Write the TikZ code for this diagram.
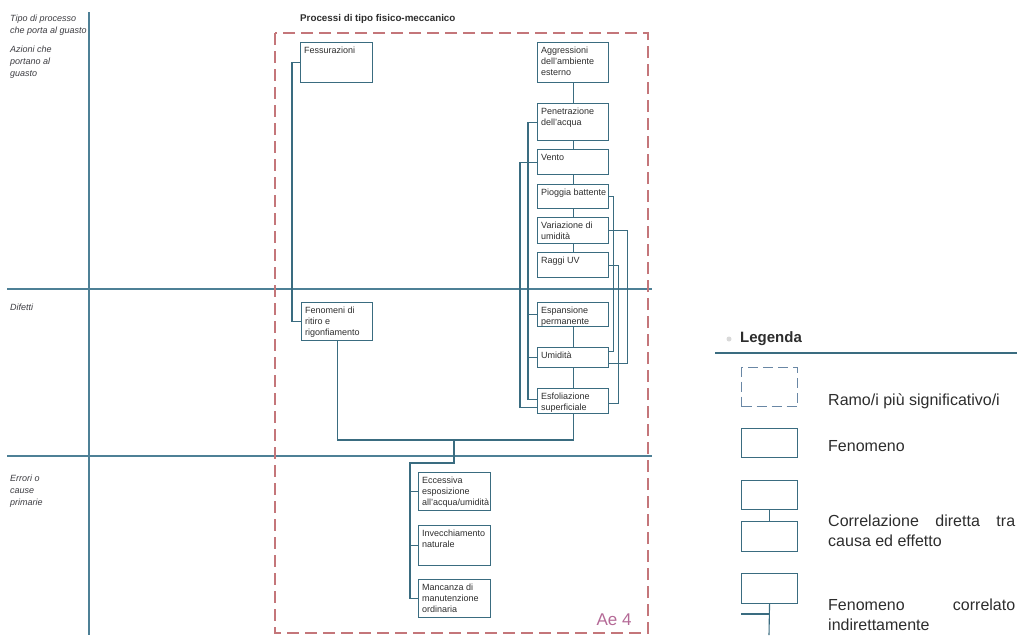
\documentclass[tikz,border=0pt]{standalone}
\usepackage{fontspec}
\setmainfont{Liberation Sans}
\definecolor{boxc}{RGB}{58,108,128}
\definecolor{gridc}{RGB}{78,128,150}
\definecolor{dashc}{RGB}{196,118,122}
\definecolor{legdash}{RGB}{105,135,165}
\definecolor{txt}{RGB}{45,45,45}
\definecolor{labc}{RGB}{60,60,65}
\definecolor{aec}{RGB}{180,105,150}
% a phenomenon box: name, x, y (top-left), width, height, text
\newcommand\phenbox[6]{%
  \node[box, minimum width=#4pt, minimum height=#5pt] (#1) at (#2,#3) {};
  \node[boxtext] (#1-t) at ([xshift=4pt,yshift=-5pt]#1.north west) {#6};}
\begin{document}
\begin{tikzpicture}[x=1pt,y=-1pt,
  box/.style={draw=boxc, line width=1.1pt, rectangle, inner sep=0pt, anchor=north west},
  boxtext/.style={anchor=north west, inner sep=0pt, align=left, text=txt,
    font=\fontsize{9}{11}\selectfont},
  conn/.style={draw=boxc, line width=1.1pt},
  grid/.style={draw=gridc, line width=1.1pt},
  lab/.style={anchor=north west, inner sep=0pt, align=left, text=labc,
    font=\itshape\fontsize{9}{12}\selectfont},
  legtext/.style={anchor=west, inner sep=0pt, align=left, text=txt,
    font=\fontsize{16}{20}\selectfont},
  legbox/.style={draw=boxc, line width=1.1pt, rectangle, inner sep=0pt,
    anchor=north west, minimum width=56pt, minimum height=29pt}]
\useasboundingbox (0,0) rectangle (1017,635);

% section grid
\draw[grid] (89,12) -- (89,635);
\draw[grid] (7,289) -- (652,289);
\draw[grid] (7,456) -- (652,456);

% row labels
\node[lab] (l1) at (10,15) {Tipo di processo\\che porta al guasto};
\node[lab] (l2) at (10,46) {Azioni che\\portano al\\guasto};
\node[lab] (l3) at (10,304) {Difetti};
\node[lab] (l4) at (10,475) {Errori o\\cause\\primarie};

% process branch
\node[anchor=west, inner sep=0pt, text=txt, font=\bfseries\fontsize{9.8}{12}\selectfont]
  (title) at (300,19) {Processi di tipo fisico-meccanico};
\draw[draw=dashc, line width=1.2pt, dash pattern=on 12pt off 6pt]
  (275,33) rectangle (648,633);
\node[anchor=center, inner sep=0pt, text=aec, font=\fontsize{17}{20}\selectfont]
  (ae) at (614,620) {Ae 4};

% phenomena
\phenbox{fess}{300}{42}{72}{40}{Fessurazioni}
\phenbox{aggr}{537}{42}{71}{40}{Aggressioni\\dell'ambiente\\esterno}
\phenbox{pen}{537}{103}{71}{37}{Penetrazione\\dell'acqua}
\phenbox{vento}{537}{149}{71}{25}{Vento}
\phenbox{piog}{537}{184}{71}{24}{Pioggia battente}
\phenbox{var}{537}{217}{71}{26}{Variazione di\\umidità}
\phenbox{uv}{537}{252}{71}{25}{Raggi UV}
\phenbox{esp}{537}{302}{71}{24}{Espansione\\permanente}
\phenbox{umid}{537}{347}{71}{20}{Umidità}
\phenbox{esf}{537}{388}{71}{25}{Esfoliazione\\superficiale}
\phenbox{fen}{301}{302}{71}{38}{Fenomeni di\\ritiro e\\rigonfiamento}
\phenbox{ecc}{418}{472}{72}{38}{Eccessiva\\esposizione\\all'acqua/umidità}
\phenbox{inv}{418}{525}{72}{40}{Invecchiamento\\naturale}
\phenbox{man}{418}{579}{72}{38}{Mancanza di\\manutenzione\\ordinaria}

% direct cause-effect chain
\foreach \a/\b in {aggr/pen,pen/vento,vento/piog,piog/var,var/uv,esp/umid,umid/esf}
  \draw[conn] (\a.south) -- (\b.north);

% indirect correlations, left side
\draw[conn] (pen.west) -- ++(-9,0) |- ([yshift=2pt]esf.west);
\draw[conn] (esp.west) -- ++(-9,0);
\draw[conn] (umid.west) -- ++(-9,0);
\draw[conn] (vento.west) -- ++(-17,0) |- ([yshift=-6pt]esf.west);

% indirect correlations, right side
\draw[conn] (piog.east) -- ++(4,0) |- ([yshift=6pt]umid.east);
\draw[conn] (uv.east) -- ++(9,0) |- ([yshift=-2.5pt]esf.east);
\draw[conn] (var.east) -- ++(18,0) |- ([yshift=-6pt]umid.east);

% cracking and shrinkage
\draw[conn] (fess.west) -- ++(-8,0) |- (fen.west);
\coordinate (jt) at (454,440);
\coordinate (jb) at (454,463);
\draw[conn] (fen.south) |- (esf.south |- jt) -- (esf.south);
\draw[conn] (jt) -- (jb) -- ++(-44,0) |- (man.west);
\draw[conn] (ecc.west) -- ++(-8,0);
\draw[conn] (inv.west) -- ++(-8,0);

% legend
\node[circle, fill=gray!30, inner sep=0pt, minimum size=5pt] (bullet) at (729,339) {};
\node[anchor=west, inner sep=0pt, text=txt, font=\bfseries\fontsize{15}{18}\selectfont]
  (legtitle) at (740,339) {Legenda};
\coordinate (rl) at (715,353);
\coordinate (rr) at (1017,353);
\draw[draw=boxc, line width=1.4pt] (rl) -- (rr);

\node[legbox, draw=legdash, dash pattern=on 10pt off 5pt, minimum height=39pt]
  (lg1) at (741,367) {};
\node[legtext] (lt1) at (828,401) {Ramo/i più significativo/i};

\node[legbox] (lg2) at (741,428) {};
\node[legtext] (lt2) at (828,446) {Fenomeno};

\node[legbox] (lg3) at (741,480) {};
\node[legbox, minimum height=30pt] (lg4) at (741,521) {};
\draw[conn] (lg3.south) -- (lg4.north);
\node[legtext, anchor=north west] (lt3) at (828,515)
  {\makebox[187pt][s]{Correlazione diretta tra}\\causa ed effetto};

\node[legbox, minimum height=30pt] (lg5) at (741,573) {};
\coordinate (lgend) at (769,635);
\coordinate (lgleft) at (741,614);
\draw[conn] (lg5.south) -- (lgend);
\draw[conn] (lgleft) -- (lgleft -| lg5.south);
\node[legtext, anchor=north west] (lt4) at (828,599)
  {\makebox[187pt][s]{Fenomeno correlato}\\indirettamente};
\end{tikzpicture}
\end{document}
